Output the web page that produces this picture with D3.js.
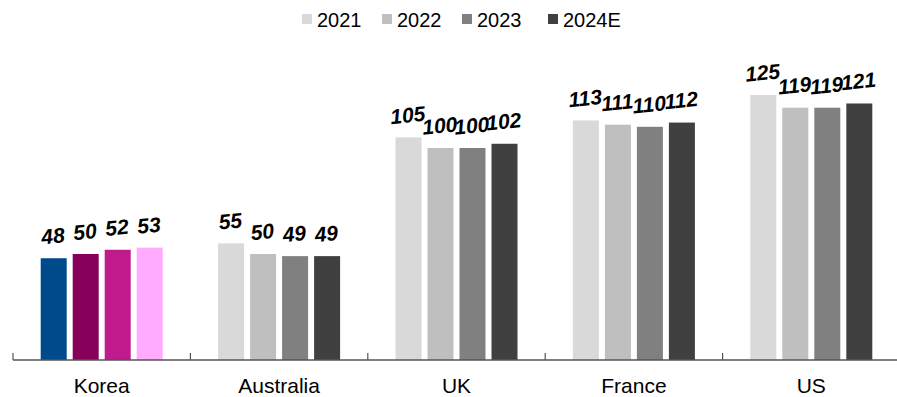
<!DOCTYPE html>
<html>
<head>
<meta charset="utf-8">
<script src="https://cdn.jsdelivr.net/npm/d3@7"></script>
<style>
  body { margin: 0; background: #fff; }
  svg { display: block; font-family: Arial, "Liberation Sans", sans-serif; }
</style>
</head>
<body>
<div id="chart"></div>
<script>
// data
const countries = ["Korea", "Australia", "UK", "France", "US"];
const years = ["2021", "2022", "2023", "2024E"];
const korea = [48, 50, 52, 53];
const australia = [55, 50, 49, 49];
const uk = [105, 100, 100, 102];
const france = [113, 111, 110, 112];
const us = [125, 119, 119, 121];

const values = [korea, australia, uk, france, us];

const greyColors = ["#d9d9d9", "#bfbfbf", "#808080", "#404040"];
const koreaColors = ["#004a8c", "#870059", "#c01b8c", "#ffabff"];

const width = 897, height = 397;
const svg = d3.select("#chart").append("svg")
	.attr("width", width)
	.attr("height", height);

const x0 = d3.scaleBand()
	.domain(countries)
	.range([13, 900]);

const groupW = 128;
const x1 = d3.scaleBand()
	.domain(years)
	.range([0, groupW])
	.paddingInner(0.1875)
	.paddingOuter(0.09375);

const y = d3.scaleLinear()
	.domain([0, 140])
	.range([360, 63.2]);

// bars + labels per country
countries.forEach((c, ci) => {
	const g = svg.append("g")
		.attr("transform", `translate(${x0(c) + (x0.bandwidth() - groupW) / 2},0)`);
	const cols = c === "Korea" ? koreaColors : greyColors;

	g.selectAll("rect")
		.data(values[ci])
		.enter()
		.append("rect")
		.attr("x", (d, i) => x1(years[i]))
		.attr("y", d => y(d))
		.attr("width", x1.bandwidth())
		.attr("height", d => y(0) - y(d))
		.attr("fill", (d, i) => cols[i]);

	g.selectAll("text")
		.data(values[ci])
		.enter()
		.append("text")
		.attr("transform", (d, i) => `translate(${x1(years[i]) + x1.bandwidth() / 2},${y(d) - 15}) rotate(-6)`)
		.attr("text-anchor", "middle")
		.attr("font-size", 21)
		.attr("font-weight", "bold")
		.attr("font-style", "italic")
		.attr("fill", "#000")
		.text(d => d);
});

// x axis: baseline with ticks pointing up
const axis = svg.append("g");
axis.append("line")
	.attr("x1", 13).attr("x2", width)
	.attr("y1", y(0)).attr("y2", y(0))
	.attr("stroke", "#555")
	.attr("stroke-width", 1.5);
axis.selectAll(".tick")
	.data(countries)
	.enter()
	.append("line")
	.attr("x1", d => x0(d)).attr("x2", d => x0(d))
	.attr("y1", y(0) - 7).attr("y2", y(0))
	.attr("stroke", "#555")
	.attr("stroke-width", 1.2);
axis.selectAll(".cat")
	.data(countries)
	.enter()
	.append("text")
	.attr("x", d => x0(d) + x0.bandwidth() / 2)
	.attr("y", 393)
	.attr("text-anchor", "middle")
	.attr("font-size", 21)
	.attr("fill", "#000")
	.text(d => d);

// legend
const legendX = [302, 382, 462, 548];
const legend = svg.append("g");
years.forEach((yr, i) => {
	legend.append("rect")
		.attr("x", legendX[i]).attr("y", 14)
		.attr("width", 10).attr("height", 10)
		.attr("fill", greyColors[i]);
	legend.append("text")
		.attr("x", legendX[i] + 15).attr("y", 27)
		.attr("font-size", 20)
		.attr("fill", "#000")
		.text(yr);
});
</script>
</body>
</html>
